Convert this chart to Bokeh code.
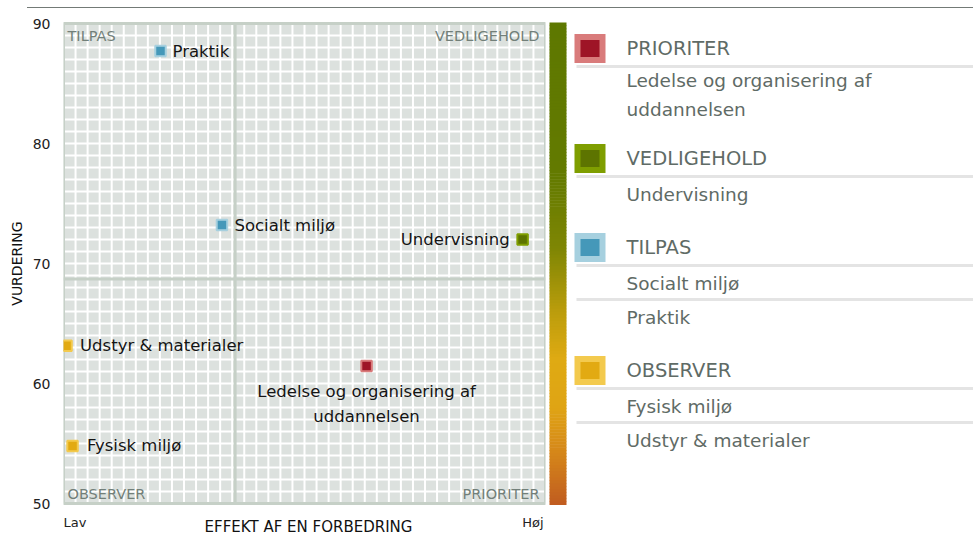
import textwrap
import numpy as np
from bokeh.plotting import figure
from bokeh.layouts import row, column
from bokeh.models import Range1d, FixedTicker, ColumnDataSource, Div, Title
from bokeh.core.properties import value
from bokeh.embed import file_html
from bokeh.resources import INLINE

# ---------------- data ----------------
names = ["Ledelse og organisering af uddannelsen", "Undervisning", "Socialt miljø",
         "Praktik", "Fysisk miljø", "Udstyr & materialer"]
effekt = [25.15, 38.1, 13.15, 8.05, 0.75, 0.25]          # x: effekt af en forbedring
vurdering = [61.45, 72.0, 73.2, 87.7, 54.8, 63.15]       # y: vurdering
kategori = ["PRIORITER", "VEDLIGEHOLD", "TILPAS", "TILPAS", "OBSERVER", "OBSERVER"]
categories = ["PRIORITER", "VEDLIGEHOLD", "TILPAS", "OBSERVER"]
y_ticks = [50, 60, 70, 80, 90]
x_end_labels = ["Lav", "Høj"]
x_title = "EFFEKT AF EN FORBEDRING"
y_title = "VURDERING"
X_MIN, X_MAX = 0, 40
Y_MIN, Y_MAX = 50, 90

# ---------------- styles ----------------
FONT = "DejaVu Sans"
fill = {"PRIORITER": "#9e1426", "VEDLIGEHOLD": "#5d7400", "TILPAS": "#4598b9", "OBSERVER": "#e2aa12"}
edge = {"PRIORITER": "#d97b7b", "VEDLIGEHOLD": "#7f9e00", "TILPAS": "#a6d0df", "OBSERVER": "#f3ca4e"}
FRAME_C = "#c6d0c7"
CELL_C = "#dce1de"
QUAD_TXT = "#727f79"
LEG_TXT = "#5f6b66"
RULE_C = "#737a76"

TOP = 8                 # height of the rule strip above the charts
H = 534 - TOP
W_MAIN = 548
W_LEG = 973 - W_MAIN
FL, FR = 63, 545        # plot-area edges (page px)
FT, FB = 23, 503
px_y = (FB - FT) / (Y_MAX - Y_MIN)

p = figure(width=W_MAIN, height=H, x_range=Range1d(X_MIN, X_MAX),
           y_range=Range1d(Y_MIN - (TOP + H - FB) / px_y, Y_MAX + (FT - TOP) / px_y),
           output_backend="svg", toolbar_location=None, x_axis_location=None,
           min_border_left=FL, min_border_right=W_MAIN - FR, min_border_top=0, min_border_bottom=0,
           background_fill_color="white", border_fill_color="white", outline_line_color=None)
p.grid.visible = False

ya = p.yaxis[0]
ya.ticker = FixedTicker(ticks=y_ticks)
ya.bounds = (Y_MIN, Y_MAX)
ya.major_label_text_font = FONT
ya.major_label_text_font_size = "14px"
ya.major_label_text_color = "#222222"
ya.axis_line_color = None
ya.major_tick_line_color = None
ya.minor_tick_line_color = None
ya.major_tick_out = 0
ya.major_tick_in = 0
ya.major_label_standoff = 13

# y-axis title, centred on the plot area rather than on the whole canvas
Y_TITLE_LEN = 84.4      # approx. rendered length of the title in px
p.add_layout(Title(text=y_title, align="left",
                   offset=(TOP + H) - ((FT + FB) / 2 + Y_TITLE_LEN / 2),
                   text_font=FONT, text_font_size="14px", text_font_style="normal",
                   text_color="#111111", standoff=10), "left")

# plot area: cells, white grid, quadrant dividers, border
grid_x = list(range(X_MIN + 1, X_MAX))
grid_y = list(range(Y_MIN + 1, Y_MAX))
p.quad(left=[X_MIN], right=[X_MAX], bottom=[Y_MIN], top=[Y_MAX], fill_color=CELL_C, line_color=None)
p.segment(x0=grid_x, y0=[Y_MIN] * len(grid_x), x1=grid_x, y1=[Y_MAX] * len(grid_x),
          line_color="white", line_width=2)
p.segment(x0=[X_MIN] * len(grid_y), y0=grid_y, x1=[X_MAX] * len(grid_y), y1=grid_y,
          line_color="white", line_width=2)
mx = float(np.mean(effekt))
my = float(np.mean(vurdering))
p.segment(x0=[mx, X_MIN], y0=[Y_MIN, my], x1=[mx, X_MAX], y1=[Y_MAX, my], line_color=FRAME_C, line_width=3)
p.quad(left=[X_MIN], right=[X_MAX], bottom=[Y_MIN], top=[Y_MAX], fill_color=None,
       line_color=FRAME_C, line_width=3)

# quadrant names
for cat in categories:
    left = cat in ("TILPAS", "OBSERVER")
    top = cat in ("TILPAS", "VEDLIGEHOLD")
    p.text(x=[X_MIN if left else X_MAX], y=[Y_MAX if top else Y_MIN], text=[cat],
           text_align="left" if left else "right", text_baseline="middle",
           x_offset=4 if left else -6, y_offset=12 if top else -10,
           text_font=value(FONT), text_font_size="14.5px", text_color=QUAD_TXT)

src = ColumnDataSource(dict(x=effekt, y=vurdering,
                            f=[fill[k] for k in kategori], e=[edge[k] for k in kategori]))
p.scatter("x", "y", source=src, marker="square", size=10.5, fill_color="f", line_color="e", line_width=2)

label_style = {
    "Praktik": dict(align="left", dx=12, dy=0),
    "Socialt miljø": dict(align="left", dx=12.5, dy=0),
    "Undervisning": dict(align="right", dx=-13, dy=0),
    "Udstyr & materialer": dict(align="left", dx=13.5, dy=0),
    "Fysisk miljø": dict(align="left", dx=14.5, dy=0),
    "Ledelse og organisering af uddannelsen": dict(align="center", dx=0, dy=25.5),
}
LINE_STEP = 25
for n, xv, yv in zip(names, effekt, vurdering):
    st = label_style[n]
    for k, ln in enumerate(textwrap.wrap(n, 26)):
        p.text(x=[xv], y=[yv], text=[ln], text_font=value(FONT), text_font_size="16.5px",
               text_color="#141414", text_align=st["align"], text_baseline="middle",
               x_offset=st["dx"], y_offset=st["dy"] + LINE_STEP * k)

# x-axis end labels and title (below the plot area)
p.text(x=[X_MIN], y=[Y_MIN], text=[x_end_labels[0]], text_align="left", text_baseline="middle",
       x_offset=0, y_offset=19, text_font=value(FONT), text_font_size="13px", text_color="#222222")
p.text(x=[X_MAX], y=[Y_MIN], text=[x_end_labels[1]], text_align="right", text_baseline="middle",
       x_offset=-2, y_offset=19, text_font=value(FONT), text_font_size="13px", text_color="#222222")
p.text(x=[(X_MIN + X_MAX) / 2], y=[Y_MIN], text=[x_title], text_align="center", text_baseline="middle",
       x_offset=4, y_offset=23, text_font=value(FONT), text_font_size="15px", text_color="#111111")

# ---------------- legend panel (page-pixel coordinates) ----------------
leg = figure(width=W_LEG, height=H, x_range=Range1d(W_MAIN, W_MAIN + W_LEG), y_range=Range1d(TOP + H, TOP),
             output_backend="svg", toolbar_location=None, x_axis_location=None, y_axis_location=None,
             min_border=0, min_border_left=0, min_border_right=0, min_border_top=0, min_border_bottom=0,
             outline_line_color=None, background_fill_color="white", border_fill_color="white")
leg.grid.visible = False

# gradient bar
stops = [(0.0, "#5e7800"), (0.32, "#637a00"), (0.47, "#7f8604"), (0.6, "#bb9d0c"),
         (0.7, "#dfaa13"), (0.8, "#dfa414"), (0.9, "#d4841a"), (1.0, "#c05c20")]
def hex2rgb(h):
    return np.array([int(h[i:i + 2], 16) for i in (1, 3, 5)], dtype=float)
sf = np.array([s[0] for s in stops])
sc = np.array([hex2rgb(s[1]) for s in stops])
g_top, g_bot, nseg = 22, 504, 160
edges = np.linspace(g_top, g_bot, nseg + 1)
mids = (edges[:-1] + edges[1:]) / 2
fr = (mids - g_top) / (g_bot - g_top)
cols = ["#%02x%02x%02x" % tuple(int(round(np.interp(f, sf, sc[:, c]))) for c in range(3)) for f in fr]
leg.quad(left=549, right=566, top=edges[:-1], bottom=edges[1:] + 0.6, fill_color=cols, line_color=None)

SQ_X, TX_X, LN_X0 = 589.5, 626, 576
y = 48.0
for cat in categories:
    items = [n for n, k in zip(names, kategori) if k == cat]
    leg.rect(x=[SQ_X], y=[y], width=31, height=29, width_units="screen", height_units="screen",
             fill_color=edge[cat], line_color=None)
    leg.rect(x=[SQ_X], y=[y], width=19, height=17, width_units="screen", height_units="screen",
             fill_color=fill[cat], line_color=None)
    leg.text(x=[TX_X], y=[y], text=[cat], text_baseline="middle", text_align="left",
             text_font=value(FONT), text_font_size="19.5px", text_color=LEG_TXT)
    line_y = y + 18
    last = line_y
    nl = 1
    for j, item in enumerate(items):
        lines = textwrap.wrap(item, 26)
        nl = len(lines)
        if j > 0:
            line_y = last + 16
        leg.segment(x0=[LN_X0], y0=[line_y], x1=[W_MAIN + W_LEG], y1=[line_y], line_color="#e4e4e4", line_width=3)
        first = line_y + (18 if nl == 1 else 14)
        for k, ln in enumerate(lines):
            leg.text(x=[TX_X], y=[first + 29 * k], text=[ln], text_baseline="middle", text_align="left",
                     text_font=value(FONT), text_font_size="18.5px", text_color=LEG_TXT)
        last = first + 29 * (nl - 1)
    y = last + (53 if nl == 1 else 49)

# thin rule across the top of the page
rule = Div(text="", width=946, height=1, margin=(TOP - 1, 0, 0, 27),
           styles={"background-color": RULE_C})

layout = column(rule, row(p, leg))
open("out.html", "w").write(file_html(layout, INLINE, title="chart"))
